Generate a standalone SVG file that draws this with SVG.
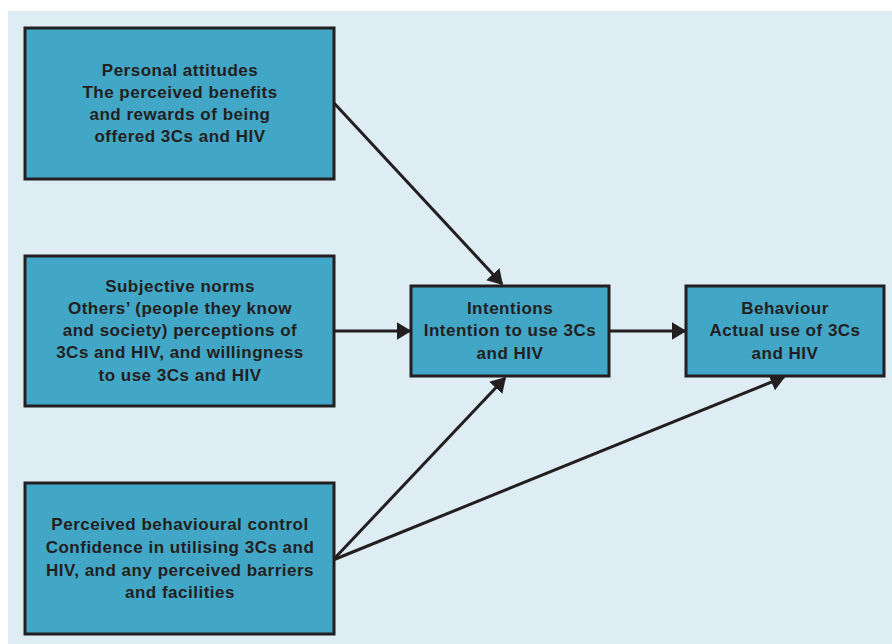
<svg xmlns="http://www.w3.org/2000/svg" width="892" height="644" viewBox="0 0 892 644">
<defs>
<style>
.node rect{fill:#42a6c6;stroke:#231f20;stroke-width:3}
.node text{font-family:"Liberation Sans",Arial,sans-serif;font-size:17px;letter-spacing:0.5px;fill:#231f20;text-anchor:middle;font-weight:bold}
.conn line{stroke:#231f20;stroke-width:3}
</style>
<marker id="ah" viewBox="0 0 10 12" refX="9" refY="6" markerWidth="5" markerHeight="6" markerUnits="strokeWidth" orient="auto">
<path d="M0,0 L10,6 L0,12 z" fill="#231f20"/>
</marker>
</defs>
<rect x="0" y="0" width="892" height="644" fill="#ffffff"/>
<rect x="8" y="11" width="884" height="633" fill="#deecf3"/>
<g class="conn">
<line x1="334" y1="103" x2="502" y2="284" marker-end="url(#ah)"/>
<line x1="334" y1="331" x2="410" y2="331" marker-end="url(#ah)"/>
<line x1="610" y1="331" x2="685" y2="331" marker-end="url(#ah)"/>
<line x1="333" y1="560" x2="505" y2="378" marker-end="url(#ah)"/>
<line x1="333" y1="560" x2="784" y2="377" marker-end="url(#ah)"/>
</g>
<g id="attitudes" class="node">
<rect x="25" y="28" width="309" height="151"/>
<text x="180" y="76">Personal attitudes</text>
<text x="180" y="98">The perceived benefits</text>
<text x="180" y="120">and rewards of being</text>
<text x="180" y="142">offered 3Cs and HIV</text>
</g>
<g id="norms" class="node">
<rect x="25" y="256" width="309" height="150"/>
<text x="180" y="292">Subjective norms</text>
<text x="180" y="314">Others’ (people they know</text>
<text x="180" y="336">and society) perceptions of</text>
<text x="180" y="358">3Cs and HIV, and willingness</text>
<text x="180" y="381">to use 3Cs and HIV</text>
</g>
<g id="control" class="node">
<rect x="25" y="483" width="309" height="151"/>
<text x="180" y="530">Perceived behavioural control</text>
<text x="180" y="553">Confidence in utilising 3Cs and</text>
<text x="180" y="576">HIV, and any perceived barriers</text>
<text x="180" y="598">and facilities</text>
</g>
<g id="intentions" class="node">
<rect x="411" y="286" width="198" height="90"/>
<text x="510" y="314">Intentions</text>
<text x="510" y="336">Intention to use 3Cs</text>
<text x="510" y="359">and HIV</text>
</g>
<g id="behaviour" class="node">
<rect x="686" y="286" width="198" height="90"/>
<text x="785" y="314">Behaviour</text>
<text x="785" y="336">Actual use of 3Cs</text>
<text x="785" y="359">and HIV</text>
</g>
</svg>
